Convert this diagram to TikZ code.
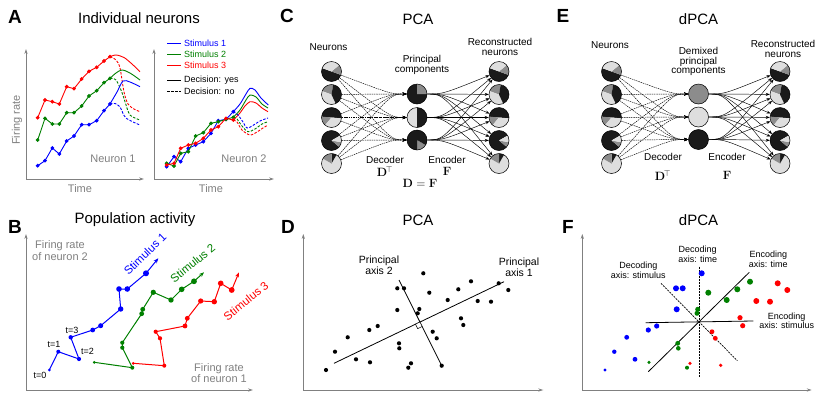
\documentclass[tikz,border=0pt]{standalone}
\usepackage[no-math]{fontspec}
\setmainfont{Liberation Sans}
\usetikzlibrary{arrows.meta,calc}
\definecolor{axgray}{RGB}{128,128,128}
\definecolor{mblue}{RGB}{0,0,255}
\definecolor{mgreen}{RGB}{0,128,0}
\definecolor{mred}{RGB}{255,0,0}
\definecolor{pk}{RGB}{26,26,26}
\definecolor{pm}{RGB}{140,140,140}
\definecolor{pl}{RGB}{222,222,222}
\newcommand{\mypie}[2]{\foreach \angA/\angB/\colr in #2 {\fill[\colr] (#1) -- ++(-\angA:10) arc[start angle=-\angA, end angle=-\angB, radius=10] -- cycle;}}
\def\pieA{160/340/pk,340/400/pm,40/160/pl}
\def\pieB{80/160/pm,160/295/pl,295/440/pk}
\def\pieC{355/535/pk,175/230/pm,230/355/pl}
\def\pieD{30/320/pk,320/350/pm,350/390/pl}
\def\pieE{150/420/pl,60/90/pk,90/150/pm}
\def\pcA{90/360/pk,0/90/pm}
\def\pcB{90/270/pl,270/450/pk}
\def\pcC{270/330/pm,330/630/pk}
\begin{document}
\begin{tikzpicture}[x=1pt,y=-1pt,
 ttl/.style={font=\fontsize{15}{18}\selectfont},
 plab/.style={font=\fontsize{19}{22}\selectfont\bfseries},
 axlab/.style={font=\fontsize{11}{11.5}\selectfont, text=axgray, align=center},
 axisline/.style={draw=axgray, line width=0.8pt, -{Stealth[length=5pt,width=3.2pt]}},
 leg/.style={font=\fontsize{9}{10}\selectfont, anchor=west, inner sep=0pt},
 curve/.style={line width=0.9pt},
 dsh/.style={dash pattern=on 2.5pt off 1.5pt},
 netlab/.style={font=\fontsize{10}{10}\selectfont, align=center},
 mathl/.style={font=\fontsize{12}{12}\selectfont},
 neu/.style={circle, draw=black, line width=0.5pt, minimum size=20pt, inner sep=0pt},
 dec/.style={line width=0.45pt, dash pattern=on 1.5pt off 0.8pt, -{Stealth[length=4pt,width=3pt]}},
 enc/.style={line width=0.45pt, -{Stealth[length=4pt,width=3pt]}},
 flab/.style={font=\fontsize{9}{9.5}\selectfont, align=center},
 tlab/.style={font=\fontsize{9}{10}\selectfont},
 dlab/.style={font=\fontsize{10.5}{11}\selectfont, align=center},
 trj/.style={line width=1pt, -{Stealth[length=5pt,width=4pt]}},
]
\useasboundingbox (0,0) rectangle (831,416);
\fill[white] (0,0) rectangle (831,416);

% ================= Panel A =================
\node[plab] (lA) at (15,17) {A};
\node[ttl] (tA) at (139,18) {Individual neurons};
\draw[axisline] (26,179) -- (26,49);
\draw[axisline] (26,179) -- (144,179);
\node[axlab, rotate=90] (yA) at (17,120) {Firing rate};
\node[axlab] (xA1) at (80,189) {Time};
\node[axlab] (nA1) at (113,159) {Neuron 1};
\draw[axisline] (154,179) -- (154,49);
\draw[axisline] (154,179) -- (274,179);
\node[axlab] (xA2) at (211,189) {Time};
\node[axlab] (nA2) at (244,159) {Neuron 2};

% neuron 1
\draw[mred,curve] plot[mark=*, mark size=1.4pt] coordinates {(37.7,117.7)(45,100)(52.3,101.7)(59.3,104)(66.7,86.7)(74,88.7)(81.7,79)(89,71.3)(96.7,67.3)(104,61)(110,56.7)};
\draw[mred,curve] plot[smooth] coordinates {(110,56.7)(116,55)(124,57.5)(132,64)(140,71.7)};
\draw[mred,curve,dsh] plot[smooth] coordinates {(110,56.7)(116,60)(120,68)(124,92)(128,104)(134,109)(140,111.7)};
\draw[mgreen,curve] plot[mark=*, mark size=1.4pt] coordinates {(37.7,140)(45,118.3)(52.3,124)(59.3,124)(66.7,112.7)(74,112.7)(81.7,106)(89,96)(96.7,90.7)(104,82.7)(110,78.3)};
\draw[mgreen,curve] plot[smooth] coordinates {(110,78.3)(116,73)(122,70)(130,73)(140,80)};
\draw[mgreen,curve,dsh] plot[smooth] coordinates {(110,78.3)(116,80)(121.7,91.7)(125,101.7)(130,115)(140,120)};
\draw[mblue,curve] plot[mark=*, mark size=1.4pt] coordinates {(37.7,165.7)(45,160.7)(52.3,148)(59.3,154)(66.7,141)(74,136)(81.7,124.7)(89,124.7)(96.7,120.7)(104,110.7)(110,104)};
\draw[mblue,curve] plot[smooth] coordinates {(110,104)(117,92)(123,81)(130,82)(140,86.7)};
\draw[mblue,curve,dsh] plot[smooth] coordinates {(110,104)(115,103.5)(120,107)(126,118)(140,125)};

% neuron 2
\draw[mblue,curve] plot[mark=*, mark size=1.4pt] coordinates {(166.7,166.7)(174,156.7)(180.7,161.7)(188.3,148.3)(195.7,145)(203.3,141.7)(211,133.3)(218.3,120.7)(226,119.3)(233.3,111.7)};
\draw[mgreen,curve] plot[mark=*, mark size=1.4pt] coordinates {(166.7,163.3)(174,166)(180.7,153.3)(188.3,151.7)(195.7,136)(203.3,132.7)(211,123.3)(218.3,121.7)(226,119.3)(233.3,117.3)};
\draw[mred,curve] plot[mark=*, mark size=1.4pt] coordinates {(166.7,165)(174,163.3)(180.7,148.3)(188.3,145)(195.7,143.3)(203.3,138.3)(211,130)(218.3,126.7)(226,118.3)(233.3,120)};
\draw[mblue,curve] plot[smooth] coordinates {(233.3,111.7)(240,104)(246,94)(250,88.3)(255,90)(261,98)(268.3,105)};
\draw[mgreen,curve] plot[smooth] coordinates {(233.3,117.3)(240,110)(246,100)(250,95)(256,97)(262,104)(268,108)};
\draw[mred,curve] plot[smooth] coordinates {(233.3,120)(240,113)(245,106)(250,101.7)(256,103)(262,108)(268,111.7)};
\draw[mblue,curve,dsh] plot[smooth] coordinates {(233.3,111.7)(238,115)(243,122)(247,128)(252,126)(260,121)(268,118)};
\draw[mgreen,curve,dsh] plot[smooth] coordinates {(233.3,117.3)(237,119)(242,126)(248,131.7)(255,129)(262,124)(268,121.7)};
\draw[mred,curve,dsh] plot[smooth] coordinates {(233.3,120)(237,122)(242,130)(250,135)(257,132)(263,128)(268,125)};

% legend
\coordinate (lg1a) at (167,43.5); \coordinate (lg1b) at (181,43.5);
\draw[mblue,curve] (lg1a) -- (lg1b);
\node[leg,text=mblue] (lgt1) at (184,43.5) {Stimulus 1};
\coordinate (lg2a) at (167,54); \coordinate (lg2b) at (181,54);
\draw[mgreen,curve] (lg2a) -- (lg2b);
\node[leg,text=mgreen] (lgt2) at (184,54) {Stimulus 2};
\coordinate (lg3a) at (167,65); \coordinate (lg3b) at (181,65);
\draw[mred,curve] (lg3a) -- (lg3b);
\node[leg,text=mred] (lgt3) at (184,65) {Stimulus 3};
\coordinate (lg4a) at (167,80); \coordinate (lg4b) at (181,80);
\draw[black,curve] (lg4a) -- (lg4b);
\node[leg] (lgt4) at (184,80) {Decision: yes};
\coordinate (lg5a) at (167,91); \coordinate (lg5b) at (181,91);
\draw[black,curve,dsh] (lg5a) -- (lg5b);
\node[leg] (lgt5) at (184,91) {Decision: no};

% ================= Panel B =================
\node[plab] (lB) at (15,227) {B};
\node[ttl] (tB) at (135,220) {Population activity};
\draw[axisline] (26,390) -- (26,234);
\draw[axisline] (26,390) -- (253,390);
\node[axlab] (yB) at (60,250.5) {Firing rate\\of neuron 2};
\node[axlab] (xB) at (219,373) {Firing rate\\of neuron 1};

\draw[mblue,trj] (49.3,370) -- (58.3,351.7) -- (79,359) -- (70.7,337.3) -- (92.7,330) -- (100.7,325.7) -- (120.7,309) -- (119,289) -- (127.3,289) -- (146,273.3) -- (158.3,258.3);
\foreach \x/\y/\r in {49.3/370/1.5, 58.3/351.7/2, 79/359/2.1, 70.7/337.3/2.2, 92.7/330/2.4, 100.7/325.7/2.5, 120.7/309/2.7, 119/289/2.8, 127.3/289/2.8, 146/273.3/3}
  \fill[mblue] (\x,\y) circle[radius=\r];
\draw[mgreen,trj] (94.3,362.3) -- (132.3,367.7) -- (122.3,347.7) -- (122.3,342.7) -- (141.7,313.7) -- (142.7,309.3) -- (153.3,292.3) -- (171,300) -- (181.7,289.3) -- (194,281.3) -- (204,272.3);
\foreach \x/\y/\r in {94.3/362.3/1.5, 132.3/367.7/2, 122.3/347.7/2.1, 122.3/342.7/2.1, 141.7/313.7/2.4, 142.7/309.3/2.4, 153.3/292.3/2.6, 171/300/2.7, 181.7/289.3/2.8, 194/281.3/2.9}
  \fill[mgreen] (\x,\y) circle[radius=\r];
\draw[mred,trj] (133.3,363.3) -- (164.3,365.7) -- (160,338.3) -- (155.7,331.7) -- (185,326) -- (187.3,318.3) -- (200.7,301) -- (214.3,301.7) -- (220.7,283.3) -- (231.7,290) -- (239,272.3);
\foreach \x/\y/\r in {133.3/363.3/1.5, 164.3/365.7/2, 160/338.3/2.1, 155.7/331.7/2.1, 185/326/2.4, 187.3/318.3/2.4, 200.7/301/2.6, 214.3/301.7/2.7, 220.7/283.3/2.8, 231.7/290/2.9}
  \fill[mred] (\x,\y) circle[radius=\r];
\node[tlab] (t0) at (40,375) {t=0};
\node[tlab] (t1) at (54,344) {t=1};
\node[tlab] (t2) at (87.5,351) {t=2};
\node[tlab] (t3) at (72,330) {t=3};
\node[rotate=44, text=mblue, font=\fontsize{11.5}{12}\selectfont] (s1) at (145,254) {Stimulus 1};
\node[rotate=39, text=mgreen, font=\fontsize{11.5}{12}\selectfont] (s2) at (192.7,263.3) {Stimulus 2};
\node[rotate=39, text=mred, font=\fontsize{11.5}{12}\selectfont] (s3) at (246,301) {Stimulus 3};

% ================= Panel C =================
\node[plab] (lC) at (287,16) {C};
\node[ttl] (tC) at (418,19) {PCA};
\mypie{331.5,71.5}{\pieA}
\mypie{331.5,94.5}{\pieB}
\mypie{331.5,117.5}{\pieC}
\mypie{331.5,140.5}{\pieD}
\mypie{331.5,163.5}{\pieE}
\mypie{499,71.5}{\pieA}
\mypie{499,94.5}{\pieB}
\mypie{499,117.5}{\pieC}
\mypie{499,140.5}{\pieD}
\mypie{499,163.5}{\pieE}
\mypie{417,94}{\pcA}
\mypie{417,117.5}{\pcB}
\mypie{417,140}{\pcC}
\node[neu] (cL1) at (331.5,71.5) {};
\node[neu] (cL2) at (331.5,94.5) {};
\node[neu] (cL3) at (331.5,117.5) {};
\node[neu] (cL4) at (331.5,140.5) {};
\node[neu] (cL5) at (331.5,163.5) {};
\node[neu] (cR1) at (499,71.5) {};
\node[neu] (cR2) at (499,94.5) {};
\node[neu] (cR3) at (499,117.5) {};
\node[neu] (cR4) at (499,140.5) {};
\node[neu] (cR5) at (499,163.5) {};
\node[neu] (cP1) at (417,94) {};
\node[neu] (cP2) at (417,117.5) {};
\node[neu] (cP3) at (417,140) {};
\foreach \i in {1,...,5}{
  \foreach \j in {1,2,3}{
    \draw[dec] (cL\i) .. controls ($(cP\j.center)+(-26,0)$) .. (cP\j);
    \draw[enc] (cP\j) .. controls ($(cP\j.center)+(26,0)$) .. (cR\i);
  }
}
\node[netlab] (cNl) at (328.5,47.5) {Neurons};
\node[netlab] (cPl) at (422,65) {Principal\\components};
\node[netlab] (cRl) at (500,47) {Reconstructed\\neurons};
\node[netlab] (cDl) at (385,159.5) {Decoder};
\node[netlab] (cEl) at (447,159.5) {Encoder};
\node[mathl] (cDT) at (385,171.5) {$\mathbf{D}^{\!\top}$};
\node[mathl] (cF) at (447,171.5) {$\mathbf{F}$};
\node[mathl] (cDF) at (420,183) {$\mathbf{D}=\mathbf{F}$};

% ================= Panel E =================
\node[plab] (lE) at (563,16) {E};
\node[ttl] (tE) at (698.5,19) {dPCA};
\mypie{611.5,71.5}{\pieA}
\mypie{611.5,94.5}{\pieB}
\mypie{611.5,117.5}{\pieC}
\mypie{611.5,140.5}{\pieD}
\mypie{611.5,163.5}{\pieE}
\mypie{780,71.5}{\pieA}
\mypie{780,94.5}{\pieB}
\mypie{780,117.5}{\pieC}
\mypie{780,140.5}{\pieD}
\mypie{780,163.5}{\pieE}
\node[neu] (eL1) at (611.5,71.5) {};
\node[neu] (eL2) at (611.5,94.5) {};
\node[neu] (eL3) at (611.5,117.5) {};
\node[neu] (eL4) at (611.5,140.5) {};
\node[neu] (eL5) at (611.5,163.5) {};
\node[neu] (eR1) at (780,71.5) {};
\node[neu] (eR2) at (780,94.5) {};
\node[neu] (eR3) at (780,117.5) {};
\node[neu] (eR4) at (780,140.5) {};
\node[neu] (eR5) at (780,163.5) {};
\node[neu, fill=pm] (eP1) at (698.5,94) {};
\node[neu, fill=pl] (eP2) at (698.5,117) {};
\node[neu, fill=pk] (eP3) at (698.5,139.5) {};
\foreach \i in {1,...,5}{
  \foreach \j in {1,2,3}{
    \draw[dec] (eL\i) .. controls ($(eP\j.center)+(-26,0)$) .. (eP\j);
    \draw[enc] (eP\j) .. controls ($(eP\j.center)+(26,0)$) .. (eR\i);
  }
}
\node[netlab] (eNl) at (610,45.5) {Neurons};
\node[netlab, font=\fontsize{10}{9.5}\selectfont] (ePl) at (698.5,61.5) {Demixed\\principal\\components};
\node[netlab] (eRl) at (783,48.5) {Reconstructed\\neurons};
\node[netlab] (eDl) at (663,157) {Decoder};
\node[netlab] (eEl) at (727,157) {Encoder};
\node[mathl] (eDT) at (663,175.5) {$\mathbf{D}^{\!\top}$};
\node[mathl] (eF) at (727,175.5) {$\mathbf{F}$};

% ================= Panel D =================
\node[plab] (lD) at (288,227) {D};
\node[ttl] (tD) at (418,220) {PCA};
\draw[axisline] (303.3,390) -- (303.3,234);
\draw[axisline] (303.3,390) -- (543.3,390);
\coordinate (a1s) at (334,363.3); \coordinate (a1e) at (504,281.7);
\coordinate (a2s) at (399,280); \coordinate (a2e) at (441.7,365.7);
\draw[line width=0.8pt] (a1s) -- (a1e);
\draw[line width=0.8pt] (a2s) -- (a2e);
\draw[line width=0.5pt, fill=white] (419.95,322) -- (415.45,324.17) -- (417.68,328.64) -- (422.18,326.48) -- cycle;
\foreach \x/\y in {423.3/273.3, 397.3/288.3, 404/288.3, 429.3/292.7, 458.3/289.3, 471/281.3, 498.7/283.3, 508.3/290, 447.7/300, 477.7/301, 491/301.7, 397.3/310, 419.3/309, 417.7/313.3, 461/318.3, 463.3/325, 377.7/326, 369.3/330, 347.7/337.3, 432.7/331.7, 436.7/338.3, 399/343.3, 399.3/348.3, 335/351.7, 356/359.3, 370/362.3, 411/363.3, 408.3/367.7, 326/370, 441.7/365.7}
  \fill (\x,\y) circle[radius=2.1];
\node[dlab] (pa2) at (379,265.5) {Principal\\axis 2};
\node[dlab] (pa1) at (519,267.5) {Principal\\axis 1};

% ================= Panel F =================
\node[plab] (lF) at (568,227) {F};
\node[ttl] (tF) at (698.5,220) {dPCA};
\draw[axisline] (582.3,390) -- (582.3,234);
\draw[axisline] (582.3,390) -- (811.7,390);
\coordinate (esA) at (645.7,322.7); \coordinate (esB) at (753.3,321);
\coordinate (etA) at (648.3,371.7); \coordinate (etB) at (749.3,272.3);
\coordinate (dtA) at (699,266.7); \coordinate (dtB) at (699,376.7);
\coordinate (dsA) at (661,283.3); \coordinate (dsB) at (737.3,360.7);
\draw[line width=0.8pt] (esA) -- (esB);
\draw[line width=0.8pt] (etA) -- (etB);
\draw[line width=0.7pt, dash pattern=on 2pt off 1pt] (dtA) -- (dtB);
\draw[line width=0.7pt, dash pattern=on 2pt off 1pt] (dsA) -- (dsB);
\foreach \x/\y/\r in {701.7/273.3/3, 676/288.3/3, 682.7/288.3/3, 676.7/309.3/3, 656.7/326/2.6, 648.3/330/2.6, 626.7/337.3/2.4, 614.3/351.7/2.2, 635/359.3/2.4, 605/370/1.7}
  \fill[mblue] (\x,\y) circle[radius=\r];
\foreach \x/\y/\r in {750/281.7/3, 737.3/289.3/3, 708.3/292.7/3, 726.7/300/3, 697.7/309.3/2.5, 697/313.3/2.5, 677.7/343.3/2.4, 678.3/348.3/2.3, 649/362.3/1.7, 687/367.7/2}
  \fill[mgreen] (\x,\y) circle[radius=\r];
\foreach \x/\y/\r in {777.7/283.3/3, 787.3/290/3, 756.3/301/3, 770/301.7/3, 740/317.7/2.6, 742.7/325.7/2.6, 712/331.7/2.4, 715.3/338.3/2.4, 690/363.3/1.8, 720.7/365.3/1.8}
  \fill[mred] (\x,\y) circle[radius=\r];
\node[flab] (fdt) at (697.7,254.5) {Decoding\\axis: time};
\node[flab] (fet) at (768.3,259.5) {Encoding\\axis: time};
\node[flab] (fds) at (638.3,270.5) {Decoding\\axis: stimulus};
\node[flab] (fes) at (786.7,321) {Encoding\\axis: stimulus};
\end{tikzpicture}
\end{document}
